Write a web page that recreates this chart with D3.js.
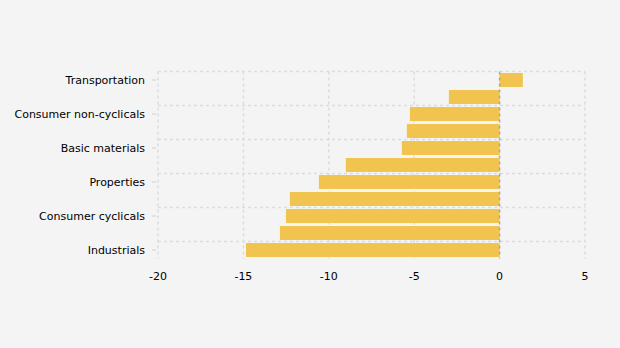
<!DOCTYPE html>
<html><head><meta charset="utf-8">
<script src="https://cdn.jsdelivr.net/npm/d3@7"></script>
<style>
html,body{margin:0;padding:0;background:#f4f4f4;}
svg{display:block;font-family:"DejaVu Sans",Verdana,sans-serif;}
</style></head>
<body><svg id="c" width="620" height="348"></svg>
<script>
const categories = ["Transportation","Energy","Consumer non-cyclicals","Healthcare","Basic materials","Financials","Properties","Infrastructures","Consumer cyclicals","Technology","Industrials"];
const values = [1.36,-2.97,-5.25,-5.43,-5.72,-9.0,-10.58,-12.28,-12.51,-12.86,-14.85];
const shownLabels = ["Transportation","Consumer non-cyclicals","Basic materials","Properties","Consumer cyclicals","Industrials"];
const xTicks = [-20,-15,-10,-5,0,5];

const svg = d3.select("#c");
svg.append("rect").attr("width",620).attr("height",348).attr("fill","#f4f4f4");
const x = d3.scaleLinear().domain([-20,5]).range([158,585]);
const y = d3.scaleBand().domain(categories).range([71.5,258.5]).paddingInner(0.18).paddingOuter(0.09);
const step = y.step();
const plotTop = 71.5, plotBottom = 258.5;

// horizontal grid (at band starts of labelled rows)
svg.append("g").selectAll("line").data(shownLabels).join("line")
  .attr("x1",x(-20)).attr("x2",x(5))
  .attr("y1",d=>y(d)-step*0.09).attr("y2",d=>y(d)-step*0.09)
  .attr("stroke","#dcdcdc").attr("stroke-width",1.5).attr("stroke-dasharray","3,3");
// vertical grid
svg.append("g").selectAll("line").data(xTicks.filter(t=>t!==0)).join("line")
  .attr("x1",d=>x(d)).attr("x2",d=>x(d)).attr("y1",plotTop).attr("y2",plotBottom)
  .attr("stroke","#dcdcdc").attr("stroke-width",1.5).attr("stroke-dasharray","3,3");

// bars
svg.append("g").selectAll("rect").data(categories).join("rect")
  .attr("x",(d,i)=>x(Math.min(0,values[i])))
  .attr("width",(d,i)=>Math.abs(x(values[i])-x(0)))
  .attr("y",d=>y(d)).attr("height",y.bandwidth())
  .attr("fill","#f0c44f");

// zero line
svg.append("line").attr("x1",x(0)).attr("x2",x(0)).attr("y1",plotTop).attr("y2",plotBottom)
  .attr("stroke","#9a9a9a").attr("stroke-width",1.5).attr("stroke-dasharray","3,3").attr("opacity",0.8);

// y axis labels and ticks
const yl = svg.append("g");
yl.selectAll("line").data(shownLabels).join("line")
  .attr("x1",152).attr("x2",156)
  .attr("y1",d=>y(d)+y.bandwidth()/2).attr("y2",d=>y(d)+y.bandwidth()/2)
  .attr("stroke","#d0d0d0").attr("stroke-width",1);
yl.selectAll("text").data(shownLabels).join("text")
  .attr("x",145).attr("y",d=>y(d)+y.bandwidth()/2).attr("dy","0.35em")
  .attr("text-anchor","end").attr("font-size",11).attr("fill","#000").text(d=>d);

// x axis labels
svg.append("g").selectAll("text").data(xTicks).join("text")
  .attr("x",d=>x(d)).attr("y",276).attr("dy","0.35em")
  .attr("text-anchor","middle").attr("font-size",11).attr("fill","#000").text(d=>d);
</script></body></html>
